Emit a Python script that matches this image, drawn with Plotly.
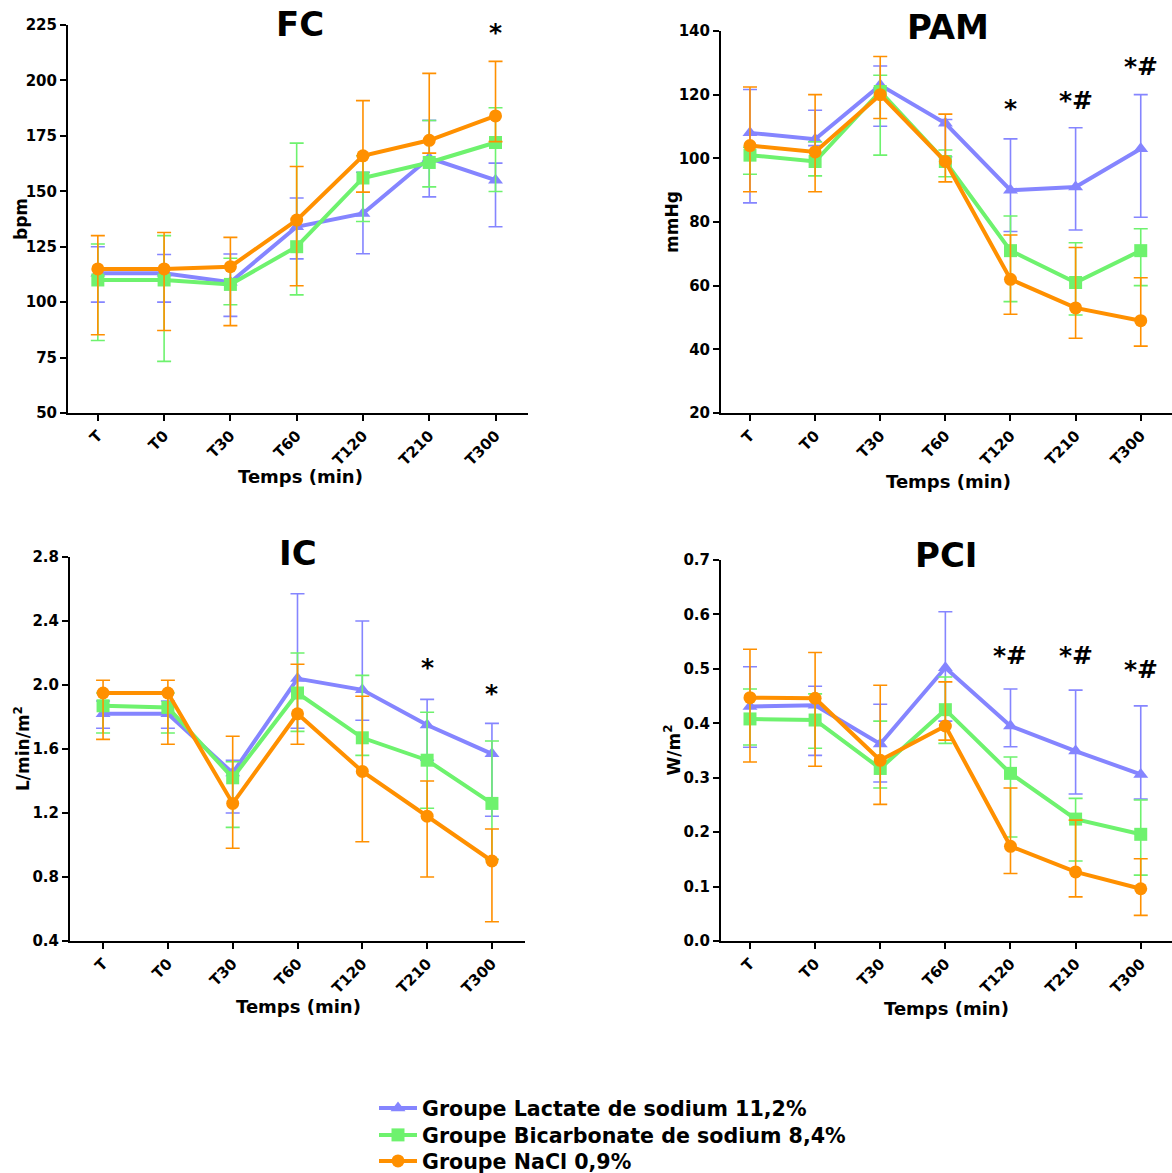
import plotly.graph_objects as go

categories = ["T", "T0", "T30", "T60", "T120", "T210", "T300"]
group_names = ["Groupe Lactate de sodium 11,2%", "Groupe Bicarbonate de sodium 8,4%", "Groupe NaCl 0,9%"]

# FC (bpm)
fc_lact = [113, 113, 109, 134, 140, 165, 155]
fc_lact_hi = [125, 121.5, 121.7, 147, 158.6, 182, 162.7]
fc_lact_lo = [100, 100, 93.6, 119.5, 121.8, 147.5, 134]
fc_bic = [110, 110, 108, 125, 156, 163, 172]
fc_bic_hi = [126.2, 130, 119.8, 171.7, 166, 181.9, 187.7]
fc_bic_lo = [82.7, 73.3, 98.8, 103.3, 136.4, 152, 149.9]
fc_nacl = [115, 115, 116, 137, 166, 173, 184]
fc_nacl_hi = [130, 131.4, 129.2, 161.2, 190.9, 203.2, 208.6]
fc_nacl_lo = [85.3, 87.2, 89.4, 107.4, 149.6, 167.2, 172.4]

# PAM (mmHg)
pam_lact = [108, 106, 123, 111, 90, 91, 103]
pam_lact_hi = [121.6, 115.1, 129, 112.2, 106.1, 109.6, 120]
pam_lact_lo = [86, 104, 110.1, 100.5, 77, 77.5, 81.5]
pam_bic = [101, 99, 121, 99, 71, 61, 71]
pam_bic_hi = [103.5, 105.2, 126.1, 102.6, 81.9, 73.5, 77.9]
pam_bic_lo = [95, 94.5, 101, 94.2, 55, 50.8, 60]
pam_nacl = [104, 102, 120, 99, 62, 53, 49]
pam_nacl_hi = [122.4, 120, 132, 113.9, 75.9, 72, 62.5]
pam_nacl_lo = [89.5, 89.5, 112.5, 92.6, 51, 43.5, 41]

# IC (L/min/m2)
ic_lact = [1.82, 1.82, 1.45, 2.04, 1.97, 1.75, 1.57]
ic_lact_hi = [1.90, 1.90, 1.53, 2.57, 2.40, 1.91, 1.76]
ic_lact_lo = [1.73, 1.73, 1.20, 1.73, 1.78, 1.53, 1.18]
ic_bic = [1.87, 1.86, 1.42, 1.95, 1.67, 1.53, 1.26]
ic_bic_hi = [1.95, 1.95, 1.52, 2.20, 2.06, 1.83, 1.65]
ic_bic_lo = [1.70, 1.70, 1.11, 1.71, 1.56, 1.23, 0.91]
ic_nacl = [1.95, 1.95, 1.26, 1.82, 1.46, 1.18, 0.90]
ic_nacl_hi = [2.03, 2.03, 1.68, 2.13, 1.93, 1.40, 1.10]
ic_nacl_lo = [1.66, 1.63, 0.98, 1.63, 1.02, 0.80, 0.52]

# PCI (W/m2)
pci_lact = [0.431, 0.433, 0.362, 0.502, 0.395, 0.349, 0.306]
pci_lact_hi = [0.504, 0.468, 0.435, 0.605, 0.463, 0.461, 0.432]
pci_lact_lo = [0.356, 0.341, 0.292, 0.404, 0.357, 0.270, 0.261]
pci_bic = [0.408, 0.406, 0.317, 0.425, 0.308, 0.224, 0.196]
pci_bic_hi = [0.463, 0.454, 0.404, 0.485, 0.338, 0.262, 0.259]
pci_bic_lo = [0.360, 0.354, 0.281, 0.363, 0.191, 0.147, 0.121]
pci_nacl = [0.447, 0.446, 0.332, 0.395, 0.174, 0.127, 0.096]
pci_nacl_hi = [0.536, 0.530, 0.470, 0.476, 0.281, 0.222, 0.151]
pci_nacl_lo = [0.329, 0.321, 0.251, 0.369, 0.124, 0.081, 0.047]

# significance marks: (category, text, y value)
fc_marks = [("T300", "*", 221.8)]
pam_marks = [("T120", "*", 115.8), ("T210", "*#", 118.3), ("T300", "*#", 129)]
ic_marks = [("T210", "*", 2.11), ("T300", "*", 1.95)]
pci_marks = [("T120", "*#", 0.524), ("T210", "*#", 0.524), ("T300", "*#", 0.498)]

colors = ["#8585FF", "#6EF26E", "#FF9000"]
symbols = ["triangle-up", "square", "circle"]
FONT = "DejaVu Sans"

W, H = 1172, 1173


def fx(sx):
    return sx / W


def fy(sy):
    return (H - sy) / H


panels = [
    dict(title="FC", ytitle="bpm", series=[(fc_lact, fc_lact_hi, fc_lact_lo), (fc_bic, fc_bic_hi, fc_bic_lo), (fc_nacl, fc_nacl_hi, fc_nacl_lo)],
         marks=fc_marks, yrange=[50, 225], dtick=25, fmt="d",
         px=(68, 528), py=(25, 413), xr=[-0.45, 6.49], title_x=300, title_y=24, xt_x=300, xt_y=476, yt_x=21),
    dict(title="PAM", ytitle="mmHg", series=[(pam_lact, pam_lact_hi, pam_lact_lo), (pam_bic, pam_bic_hi, pam_bic_lo), (pam_nacl, pam_nacl_hi, pam_nacl_lo)],
         marks=pam_marks, yrange=[20, 140], dtick=20, fmt="d",
         px=(721, 1172), py=(31, 413), xr=[-0.445, 6.48], title_x=948, title_y=27, xt_x=948, xt_y=481, yt_x=672),
    dict(title="IC", ytitle="L/min/m<sup>2</sup>", series=[(ic_lact, ic_lact_hi, ic_lact_lo), (ic_bic, ic_bic_hi, ic_bic_lo), (ic_nacl, ic_nacl_hi, ic_nacl_lo)],
         marks=ic_marks, yrange=[0.4, 2.8], dtick=0.4, fmt=".1f",
         px=(70, 525), py=(557, 941), xr=[-0.51, 6.51], title_x=298, title_y=553, xt_x=298, xt_y=1006, yt_x=22),
    dict(title="PCI", ytitle="W/m<sup>2</sup>", series=[(pci_lact, pci_lact_hi, pci_lact_lo), (pci_bic, pci_bic_hi, pci_bic_lo), (pci_nacl, pci_nacl_hi, pci_nacl_lo)],
         marks=pci_marks, yrange=[0.0, 0.7], dtick=0.1, fmt=".1f",
         px=(721, 1172), py=(560, 941), xr=[-0.445, 6.48], title_x=946, title_y=555, xt_x=946, xt_y=1008, yt_x=672),
]

legend_ids = ["legend", "legend2", "legend3"]
legend_rows = [1108, 1135, 1161]

fig = go.Figure()
annotations = []
layout_axes = {}

for i, p in enumerate(panels):
    n = i + 1
    xa = "x" if n == 1 else f"x{n}"
    ya = "y" if n == 1 else f"y{n}"
    for s, (mean, hi, lo) in enumerate(p["series"]):
        fig.add_trace(go.Scatter(
            x=categories, y=mean, xaxis=xa, yaxis=ya,
            mode="lines+markers",
            name=group_names[s], legendgroup=group_names[s], showlegend=(i == 0),
            legend=legend_ids[s],
            line=dict(color=colors[s], width=4),
            marker=dict(symbol=symbols[s], size=13, color=colors[s]),
            error_y=dict(type="data", symmetric=False,
                         array=[h - m for h, m in zip(hi, mean)],
                         arrayminus=[m - l for m, l in zip(mean, lo)],
                         color=colors[s], thickness=1.6, width=7),
            cliponaxis=False,
        ))
    x0, x1 = p["px"]
    y0, y1 = p["py"]
    axis_common = dict(showline=True, linecolor="black", linewidth=2, ticks="outside",
                       ticklen=6, tickwidth=2, tickcolor="black", showgrid=False,
                       zeroline=False, automargin=False)
    layout_axes["xaxis" if n == 1 else f"xaxis{n}"] = dict(
        domain=[max(0.0, fx(x0)), min(1.0, fx(x1))], anchor=ya, type="category",
        categoryorder="array", categoryarray=categories, range=p["xr"],
        tickangle=-45, tickfont=dict(family=FONT, size=15, color="black", weight="bold"),
        **axis_common)
    layout_axes["yaxis" if n == 1 else f"yaxis{n}"] = dict(
        domain=[fy(y1), min(1.0, fy(y0))], anchor=xa, range=p["yrange"],
        dtick=p["dtick"], tick0=p["yrange"][0], tickformat=p["fmt"],
        tickfont=dict(family=FONT, size=15, color="black", weight="bold"),
        **axis_common)
    annotations.append(dict(text=f"<b>{p['title']}</b>", xref="paper", yref="paper",
                            x=fx(p["title_x"]), y=fy(p["title_y"]), showarrow=False,
                            font=dict(family=FONT, size=34, color="black"),
                            xanchor="center", yanchor="middle"))
    annotations.append(dict(text="<b>Temps (min)</b>", xref="paper", yref="paper",
                            x=fx(p["xt_x"]), y=fy(p["xt_y"]), showarrow=False,
                            font=dict(family=FONT, size=18, color="black"),
                            xanchor="center", yanchor="middle"))
    annotations.append(dict(text=f"<b>{p['ytitle']}</b>", xref="paper", yref="paper",
                            x=fx(p["yt_x"]), y=fy((y0 + y1) / 2), showarrow=False,
                            textangle=-90,
                            font=dict(family=FONT, size=17, color="black"),
                            xanchor="center", yanchor="middle"))
    for cat, txt, yv in p["marks"]:
        annotations.append(dict(text=f"<b>{txt}</b>", xref=xa, yref=ya, x=cat, y=yv,
                                showarrow=False, font=dict(family=FONT, size=25, color="black"),
                                xanchor="center", yanchor="middle"))

legends = {}
for lid, row in zip(legend_ids, legend_rows):
    legends[lid] = dict(x=fx(374), y=fy(row), xanchor="left", yanchor="middle",
                        font=dict(family=FONT, size=20.6, color="black", weight="bold"),
                        itemwidth=38, bgcolor="rgba(0,0,0,0)", borderwidth=0)

fig.update_layout(
    width=W, height=H,
    margin=dict(l=0, r=0, t=0, b=0, autoexpand=False),
    paper_bgcolor="white", plot_bgcolor="white",
    annotations=annotations,
    showlegend=True,
    **legends,
    **layout_axes,
)

fig.write_html(
    "out.html",
    config={"displayModeBar": False},
    post_script="document.body.style.margin='0';document.body.style.overflow='hidden';",
)
